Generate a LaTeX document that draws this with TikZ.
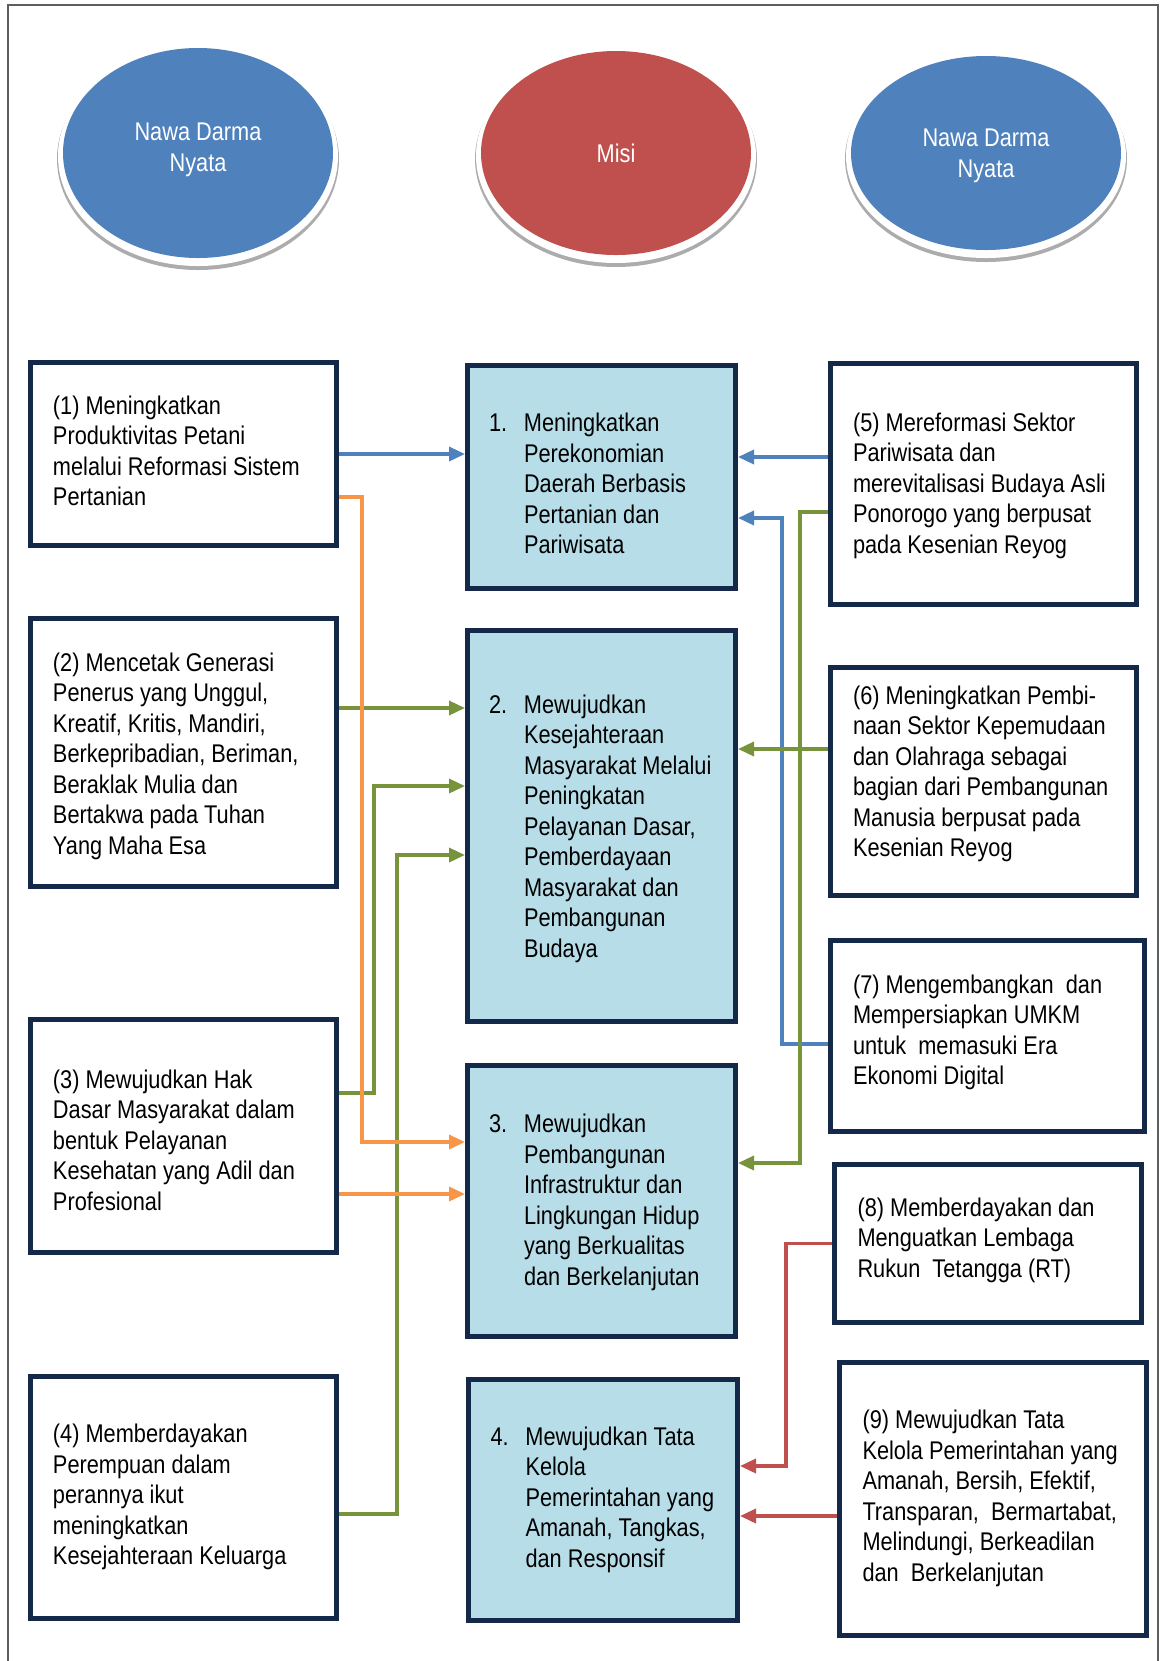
\documentclass[tikz,border=0pt]{standalone}
\usepackage{fontspec}
\setmainfont{Liberation Sans}[FakeStretch=0.85]
\usepackage{tikz}
\usetikzlibrary{
  shapes.geometric,
  arrows.meta,
  calc
}
\usepackage{xcolor}
\definecolor{boxnavy}{HTML}{14284A}
\definecolor{misifill}{HTML}{B7DEE8}
\definecolor{ovalblue}{HTML}{4F81BD}
\definecolor{ovalred}{HTML}{C0504D}
\definecolor{lineblue}{HTML}{4F81BD}
\definecolor{linegreen}{HTML}{77933C}
\definecolor{lineorange}{HTML}{F79646}
\definecolor{linered}{HTML}{C0504D}
\definecolor{framegray}{HTML}{5E5E5E}

\newcommand{\boxfont}{\fontsize{12.8pt}{15.25pt}\selectfont}
\newcommand{\nudge}[2]{\raisebox{#1}[\height][\depth]{#2}}
\newcommand{\sidetext}[2][130.5pt]{\makebox[#1][l]{\begin{tabular}{@{}l@{}}#2\end{tabular}}}
\newcommand{\misitext}[2]{\makebox[112.5pt][l]{\makebox[17.5pt][l]{#1}\begin{tabular}[t]{@{}l@{}}#2\end{tabular}}}
\newcommand{\ovaltext}[1]{\begin{tabular}{@{}c@{}}#1\end{tabular}}

\tikzset{
  oval/.style={
    ellipse, fill=#1, minimum width=135pt,
    text=white, font=\boxfont
  },
  ovalring/.style={fill=white},
  ovalshadow/.style={fill=gray!65},
  sidebox/.style={
    rectangle, draw=boxnavy, fill=white, line width=2.5pt,
    minimum width=153pt, font=\boxfont
  },
  misibox/.style={sidebox, fill=misifill, minimum width=134pt},
  arrow/.style={-{Triangle[length=8pt, width=7pt]}, line width=1.75pt},
}

\begin{document}
\begin{tikzpicture}[x=0.5pt, y=-0.5pt]
\useasboundingbox (0,0) rectangle (1160,1661);

% page frame
\draw[framegray, line width=1pt] (8,1661) -- (8,5) -- (1158,5) -- (1158,1661);

% ovals on top
\fill[ovalshadow] (198,159) ellipse [x radius=70.5pt, y radius=55.5pt];
\fill[ovalring] (198,156) ellipse [x radius=70pt, y radius=55pt];
\node[oval=ovalblue, minimum height=105pt] (ndleft) at (198,153) {\nudge{1.6pt}{\ovaltext{Nawa Darma\\Nyata}}};

\fill[ovalshadow] (616,159) ellipse [x radius=70.5pt, y radius=54pt];
\fill[ovalring] (616,156) ellipse [x radius=70pt, y radius=53.5pt];
\node[oval=ovalred, minimum height=102pt] (misi) at (616,153) {Misi};

\fill[ovalshadow] (986,159) ellipse [x radius=70.5pt, y radius=51.5pt];
\fill[ovalring] (986,156) ellipse [x radius=70pt, y radius=51pt];
\node[oval=ovalblue, minimum height=97pt] (ndright) at (986,153) {\nudge{-1.5pt}{\ovaltext{Nawa Darma\\Nyata}}};

% Nawa Darma Nyata, left column
\node[sidebox, minimum height=91.5pt] (p1) at (183.5,454) {\sidetext{(1) Meningkatkan\\Produktivitas Petani\\melalui Reformasi Sistem\\Pertanian}};
\node[sidebox, minimum height=134pt] (p2) at (183.5,752.5) {\nudge{-2pt}{\sidetext{(2) Mencetak Generasi\\Penerus yang Unggul,\\Kreatif, Kritis, Mandiri,\\Berkepribadian, Beriman,\\Beraklak Mulia dan\\Bertakwa pada Tuhan\\Yang Maha Esa}}};
\node[sidebox, minimum height=116.5pt] (p3) at (183.5,1136) {\nudge{-3.5pt}{\sidetext{(3) Mewujudkan Hak\\Dasar Masyarakat dalam\\bentuk Pelayanan\\Kesehatan yang Adil dan\\Profesional}}};
\node[sidebox, minimum height=121pt] (p4) at (183.5,1497.5) {\sidetext{(4) Memberdayakan\\Perempuan dalam\\perannya ikut\\meningkatkan\\Kesejahteraan Keluarga}};

% Misi, middle column
\node[misibox, minimum height=111.5pt] (m1) at (601.5,477) {\nudge{-4.8pt}{\misitext{1.}{Meningkatkan\\Perekonomian\\Daerah Berbasis\\Pertanian dan\\Pariwisata}}};
\node[misibox, minimum height=195.5pt] (m2) at (601.5,826) {\nudge{-1.5pt}{\misitext{2.}{Mewujudkan\\Kesejahteraan\\Masyarakat Melalui\\Peningkatan\\Pelayanan Dasar,\\Pemberdayaan\\Masyarakat dan\\Pembangunan\\Budaya}}};
\node[misibox, minimum height=135.5pt] (m3) at (601.5,1201) {\nudge{-1pt}{\misitext{3.}{Mewujudkan\\Pembangunan\\Infrastruktur dan\\Lingkungan Hidup\\yang Berkualitas\\dan Berkelanjutan}}};
\node[misibox, minimum width=134.5pt, minimum height=120.5pt] (m4) at (603,1500) {\misitext{4.}{Mewujudkan Tata\\Kelola\\Pemerintahan yang\\Amanah, Tangkas,\\dan Responsif}};

% Nawa Darma Nyata, right column
\node[sidebox, minimum height=120.5pt] (p5) at (983.5,484) {\nudge{-1pt}{\sidetext{(5) Mereformasi Sektor\\Pariwisata dan\\merevitalisasi Budaya Asli\\Ponorogo yang berpusat\\pada Kesenian Reyog}}};
\node[sidebox, minimum height=114pt] (p6) at (983.5,781.5) {\nudge{3.5pt}{\sidetext{(6) Meningkatkan Pembi-\\naan Sektor Kepemudaan\\dan Olahraga sebagai\\bagian dari Pembangunan\\Manusia berpusat pada\\Kesenian Reyog}}};
\node[sidebox, minimum width=157pt, minimum height=95.5pt] (p7) at (987.5,1036) {\nudge{1.5pt}{\sidetext[134.5pt]{(7) Mengembangkan\ \ dan\\Mempersiapkan UMKM\\untuk\ \ memasuki Era\\Ekonomi Digital}}};
\node[sidebox, minimum width=153.5pt, minimum height=79pt] (p8) at (988,1243.5) {\nudge{1.5pt}{\sidetext{(8) Memberdayakan dan\\Menguatkan Lembaga\\Rukun\ \ Tetangga (RT)}}};
\node[sidebox, minimum width=153.5pt, minimum height=136.5pt] (p9) at (993,1499) {\sidetext{(9) Mewujudkan Tata\\Kelola Pemerintahan yang\\Amanah, Bersih, Efektif,\\Transparan,\ \ Bermartabat,\\Melindungi, Berkeadilan\\dan\ \ Berkelanjutan}};

% bends of the connectors
\coordinate (bendB7) at (782,518);
\coordinate (bendG3) at (374,786);
\coordinate (bendG4) at (397,855);
\coordinate (bendG5) at (800,1163);
\coordinate (bendO1) at (362,1142);
\coordinate (bendR8) at (786,1466);

% blue
\draw[arrow, lineblue] (p1.east |- 0,454) -- (m1.west |- 0,454);
\draw[arrow, lineblue] (p5.west |- 0,457) -- (m1.east |- 0,457);
\draw[arrow, lineblue] (p7.west |- 0,1044) -| (bendB7) -- (m1.east |- bendB7);

% green
\draw[arrow, linegreen] (p2.east |- 0,708) -- (m2.west |- 0,708);
\draw[arrow, linegreen] (p3.east |- 0,1093) -| (bendG3) -- (m2.west |- bendG3);
\draw[arrow, linegreen] (p4.east |- 0,1514) -| (bendG4) -- (m2.west |- bendG4);
\draw[arrow, linegreen] (p5.west |- 0,512) -| (bendG5) -- (m3.east |- bendG5);
\draw[arrow, linegreen] (p6.west |- 0,749) -- (m2.east |- 0,749);

% orange
\draw[arrow, lineorange] (p1.east |- 0,497) -| (bendO1) -- (m3.west |- bendO1);
\draw[arrow, lineorange] (p3.east |- 0,1194) -- (m3.west |- 0,1194);

% red
\draw[arrow, linered] (p8.west) -| (bendR8) -- (m4.east |- bendR8);
\draw[arrow, linered] (p9.west |- 0,1516) -- (m4.east |- 0,1516);

\end{tikzpicture}
\end{document}
